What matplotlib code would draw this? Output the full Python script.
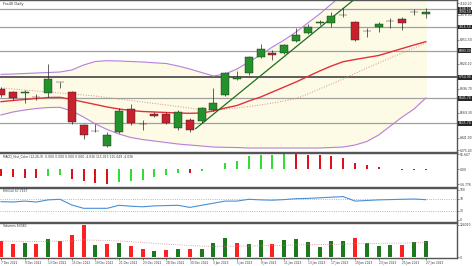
import numpy as np
import matplotlib.pyplot as plt
from matplotlib.transforms import blended_transform_factory

dates = ["7 Dec 2022", "8 Dec 2022", "9 Dec 2022", "12 Dec 2022", "13 Dec 2022",
         "14 Dec 2022", "15 Dec 2022", "16 Dec 2022", "19 Dec 2022", "20 Dec 2022",
         "21 Dec 2022", "22 Dec 2022", "23 Dec 2022", "27 Dec 2022", "28 Dec 2022",
         "29 Dec 2022", "30 Dec 2022", "2 Jan 2023", "3 Jan 2023", "4 Jan 2023",
         "5 Jan 2023", "6 Jan 2023", "9 Jan 2023", "10 Jan 2023", "11 Jan 2023",
         "12 Jan 2023", "13 Jan 2023", "16 Jan 2023", "17 Jan 2023", "18 Jan 2023",
         "19 Jan 2023", "20 Jan 2023", "23 Jan 2023", "24 Jan 2023", "25 Jan 2023",
         "26 Jan 2023", "27 Jan 2023"]

opens = [6694.1, 6678.5, 6673.3, 6652.5, 6673.3, 6730.5, 6678.5, 6506.9, 6475.7, 6397.7,
         6470.5, 6590.1, 6512.1, 6561.5, 6564.1, 6491.3, 6532.9, 6527.7, 6584.9, 6662.9,
         6746.1, 6777.3, 6860.5, 6881.3, 6881.3, 6943.7, 6985.3, 7037.3, 7037.3, 7076.3,
         7042.5, 6995.7, 7016.5, 7047.7, 7058.1, 7092.9, 7084.1]
highs = [6704.5, 6683.7, 6688.9, 6668.1, 6824.1, 6733.0, 6683.7, 6512.1, 6512.1, 6470.5,
         6595.3, 6616.1, 6532.9, 6574.5, 6574.5, 6584.9, 6543.3, 6600.5, 6699.3, 6782.5,
         6787.7, 6865.7, 6928.1, 6896.9, 6928.1, 7011.3, 7032.1, 7052.9, 7094.5, 7115.3,
         7047.7, 7011.3, 7042.5, 7063.3, 7068.5, 7110.1, 7115.3]
lows = [6652.5, 6636.9, 6621.3, 6636.9, 6652.5, 6699.3, 6512.1, 6434.1, 6470.5, 6392.5,
        6467.9, 6509.5, 6480.9, 6548.5, 6512.1, 6480.9, 6470.5, 6517.3, 6579.7, 6657.7,
        6740.9, 6766.9, 6855.3, 6844.9, 6876.1, 6938.5, 6980.1, 7026.9, 7016.5, 7068.5,
        6946.3, 6964.5, 6990.5, 7011.3, 7000.9, 7078.9, 7063.3]
closes = [6662.9, 6647.3, 6678.5, 6654.0, 6746.1, 6729.5, 6522.5, 6454.9, 6476.7, 6454.9,
          6579.7, 6517.3, 6510.5, 6553.7, 6517.3, 6574.5, 6480.9, 6595.3, 6621.3, 6777.3,
          6756.5, 6860.5, 6902.1, 6870.9, 6922.9, 6974.9, 7016.5, 7042.5, 7073.7, 7078.9,
          6948.9, 6997.3, 7032.1, 7049.3, 7037.3, 7094.5, 7094.5]

bb_upper = [6770.5, 6772.1, 6774.7, 6777.3, 6779.9, 6782.5, 6792.9, 6818.9, 6837.1, 6841.3,
            6839.7, 6837.1, 6834.5, 6830.3, 6826.7, 6813.7, 6798.1, 6779.9, 6761.7, 6772.1,
            6798.1, 6834.5, 6870.9, 6912.5, 6948.9, 6990.5, 7037.3, 7084.1, 7136.1, 7188.1,
            7229.7, 7260.0, 7285.0, 7305.0, 7320.0, 7335.0, 7345.0]
bb_mid = [6699.3, 6694.1, 6688.9, 6683.7, 6678.5, 6673.3, 6668.1, 6662.9, 6657.7, 6649.9,
          6642.1, 6634.3, 6626.5, 6618.7, 6610.9, 6603.1, 6595.3, 6584.9, 6584.9, 6590.1,
          6595.3, 6603.1, 6610.9, 6621.3, 6631.7, 6644.7, 6668.1, 6694.1, 6720.1, 6746.1,
          6774.7, 6803.3, 6829.3, 6855.3, 6881.3, 6907.3, 6933.3]
bb_lower = [6558.9, 6574.5, 6584.9, 6592.7, 6597.9, 6598.9, 6579.7, 6548.5, 6512.1, 6483.5,
            6460.1, 6441.9, 6431.5, 6423.7, 6415.9, 6408.1, 6402.9, 6397.7, 6392.5, 6390.9,
            6389.9, 6387.3, 6387.3, 6387.3, 6387.3, 6387.3, 6387.3, 6387.3, 6389.9, 6392.5,
            6402.9, 6421.1, 6454.9, 6501.7, 6548.5, 6590.1, 6647.3]
ema = [6628.1, 6634.3, 6639.5, 6644.7, 6649.9, 6650.9, 6639.5, 6626.5, 6613.5, 6600.5,
       6590.1, 6582.3, 6577.1, 6574.5, 6571.9, 6569.3, 6567.7, 6569.3, 6579.7, 6595.3,
       6608.3, 6631.7, 6652.5, 6678.5, 6704.5, 6730.5, 6759.1, 6787.7, 6813.7, 6836.1,
       6847.5, 6857.9, 6868.3, 6886.5, 6904.7, 6922.9, 6940.1]

levels = [7108.5, 7016.5, 6893.3, 6754.9, 6645.7, 6515.7]
trend_x = [16.5, 30]
trend_y = [6488, 7163]

price_ticks = [7140.2, 7078.9, 6951.5, 6824.1, 6696.7, 6569.3, 6441.9, 6375.4]

macd = [-24, -30, -33, -33.5, -24, -21, -35, -45, -51, -54,
        -47, -42, -39, -29, -23, -12, -13, -5, 2, 22,
        31, 48, 55, 55.3, 58, 57.5, 55, 52, 48, 43,
        24, 16, 7, 2, -1, -2, -4.036]

rsi = [61, 60, 63, 60, 67, 69, 50, 39, 39, 39,
       49, 46, 44, 47, 48, 49, 42, 49, 56, 63,
       63, 69, 67, 66, 68, 71, 72, 74, 76, 78,
       63, 65, 67, 68, 69, 70, 67.7]

volumes = [63080, 50540, 53200, 50540, 69540, 60800, 84740, 122740, 45600, 49400,
           53200, 42940, 30400, 22800, 26600, 30400, 32680, 32680, 53200, 72200,
           54340, 50540, 65740, 50540, 65740, 68400, 59280, 40280, 63080, 61940,
           72200, 55480, 42940, 47880, 45600, 59280, 63080]
vol_up = [0, 0, 1, 0, 1, 0, 0, 0, 1, 0,
          1, 0, 0, 1, 0, 1, 0, 1, 1, 1,
          0, 1, 1, 0, 1, 1, 1, 1, 1, 1,
          0, 1, 1, 1, 0, 1, 1]
vol_ma = [62000, 61000, 60500, 60000, 61000, 61500, 63000, 66000, 65000, 63500,
          62000, 59500, 56500, 53000, 50000, 47500, 45000, 42500, 41500, 42000,
          42500, 43000, 44000, 44500, 45500, 47000, 48000, 48000, 49000, 50000,
          52000, 52500, 53000, 53500, 54000, 55000, 56000]

GREEN = '#23922b'
RED = '#c8202c'
FS = 2.6
FSY = 2.2
W, H = 474, 266

fig = plt.figure(figsize=(W / 100, H / 100), dpi=100)


def panel(top, bottom):
    ax = fig.add_axes([0, 1 - bottom / H, 457 / W, (bottom - top) / H])
    ax.set_xlim(-1 / 11.8, 456 / 11.8)
    for s in ax.spines.values():
        s.set_color('#555555')
        s.set_linewidth(1.0)
    ax.spines['left'].set_visible(False)
    ax.yaxis.tick_right()
    ax.tick_params(axis='y', labelsize=FSY, length=1.2, width=0.4, pad=0.8, colors='#333333')
    ax.tick_params(axis='x', bottom=False, labelbottom=False)
    return ax


x = np.arange(len(dates))

# price panel
ax_p = panel(0, 151.5)
ax_p.set_ylim(6369.1, 7156.9)
ax_p.fill_between(x, bb_lower, bb_upper, color='#fdfbe6', zorder=0)
for i, lv in enumerate(levels):
    if i == 3:
        ax_p.axhline(lv, color='#505050', lw=1.3, zorder=1)
    else:
        ax_p.axhline(lv, color='#a0a0a0', lw=0.9, zorder=1)
ax_p.plot(x, bb_upper, color='#b77fe0', lw=0.8, zorder=2)
ax_p.plot(x, bb_lower, color='#b77fe0', lw=0.8, zorder=2)
ax_p.plot(x, bb_mid, color='#d98c8c', lw=0.7, ls=':', zorder=2)
ax_p.plot(x, ema, color='#e3303a', lw=1.0, zorder=2)
ax_p.plot(trend_x, trend_y, color='#1e6e1e', lw=0.9, zorder=3)

o = np.array(opens)
c = np.array(closes)
up = c >= o
ax_p.vlines(x, lows, highs, color='#222222', lw=0.5, zorder=4)
body = np.maximum(np.abs(c - o), 1.5)
ax_p.bar(x, body, bottom=np.minimum(o, c), width=0.68,
         color=np.where(up, GREEN, RED), edgecolor='#222222', linewidth=0.3, zorder=5)

ax_p.set_yticks(price_ticks)
ax_p.set_yticklabels([f"{v:.2f}" for v in price_ticks])
ax_p.text(0.006, 0.985, "Fra40 Daily", transform=ax_p.transAxes, fontsize=FS,
          va='top', ha='left', color='#333333')
tr = blended_transform_factory(ax_p.transAxes, ax_p.transData)
for lv in levels + [closes[-1]]:
    ax_p.text(1.003, lv, f"{lv:.2f}", transform=tr, fontsize=FSY, color='white',
              va='center', ha='left', clip_on=False,
              bbox=dict(boxstyle='square,pad=0.15', fc='#262626', ec='none'))

# MACD panel
ax_m = panel(152.5, 186.5)
ax_m.set_ylim(-64.3, 62.9)
m = np.array(macd)
mcol = [RED] + [GREEN if m[i] > m[i - 1] else RED for i in range(1, len(m))]
mcol = [('#33dd33' if cc == GREEN else '#e0101a') for cc in mcol]
ax_m.bar(x, m, width=0.17, color=mcol)
ax_m.set_yticks([55.607, 0, -56.776])
ax_m.set_yticklabels(["55.607", "0.00", "-56.776"])
ax_m.text(0.006, 0.95, "MACD_Hist_Color (12,26,9)  0.000 0.000 0.000 0.000 -4.036 115.013 115.049 -4.036",
          transform=ax_m.transAxes, fontsize=FSY, va='top', ha='left', color='#333333')

# RSI panel
ax_r = panel(187.5, 221.5)
ax_r.set_ylim(-5, 108.3)
ax_r.axhline(70, color='#d08a8a', lw=0.6, ls=':')
ax_r.axhline(30, color='#d08a8a', lw=0.6, ls=':')
ax_r.plot(x, rsi, color='#4a8fd8', lw=0.8)
ax_r.set_yticks([100, 70, 30, 0])
ax_r.set_yticklabels(["100", "70", "30", "0"])
ax_r.text(0.006, 0.95, "RSI(14) 67.7167", transform=ax_r.transAxes, fontsize=FSY,
          va='top', ha='left', color='#333333')

# volume panel
ax_v = panel(222.5, 258)
ax_v.set_ylim(-2660, 132240)
vcol = ['#1c7a1c' if u else '#ff2020' for u in vol_up]
ax_v.bar(x, volumes, width=0.34, color=vcol)
ax_v.plot(x, vol_ma, color='#d08a8a', lw=0.6, ls=':')
ax_v.set_yticks([124010, 0])
ax_v.set_yticklabels(["124010", "0"])
ax_v.text(0.006, 0.95, "Volumes 63080", transform=ax_v.transAxes, fontsize=FSY,
          va='top', ha='left', color='#333333')
ax_v.tick_params(axis='x', bottom=True, labelbottom=True, labelsize=2.1, length=1.2,
                 width=0.4, pad=1, colors='#333333')
ax_v.set_xticks(x[::2])
ax_v.set_xticklabels(dates[::2])
for lbl in ax_v.get_xticklabels():
    lbl.set_ha('left')

fig.savefig('out.png', dpi=100)
